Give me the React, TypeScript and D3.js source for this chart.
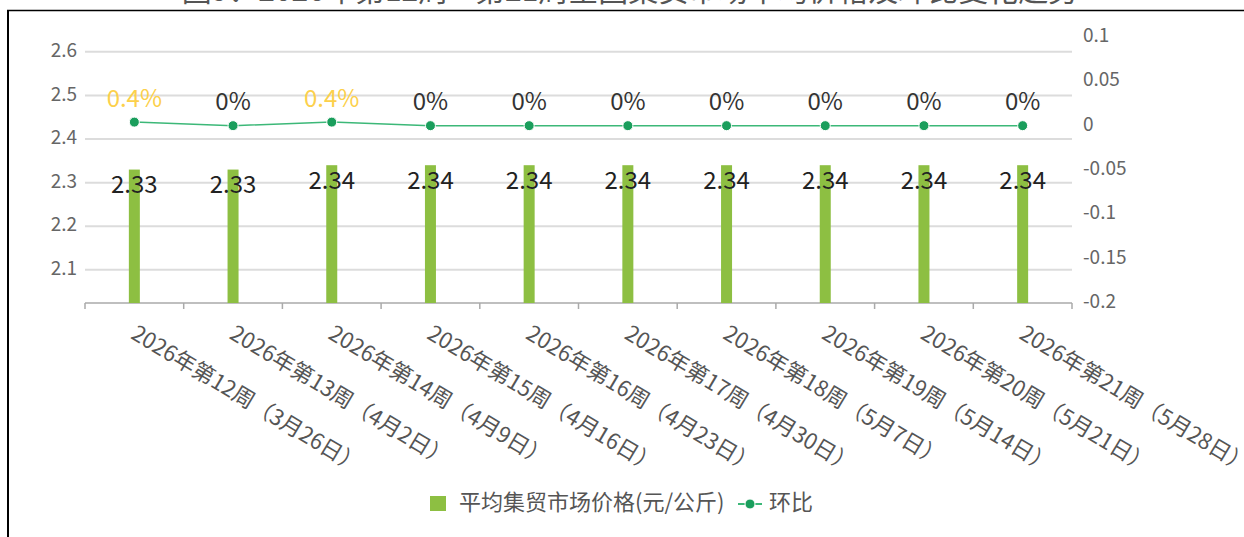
import React from "react";
import * as d3 from "d3";

const categories = [
  "2026年第12周（3月26日）",
  "2026年第13周（4月2日）",
  "2026年第14周（4月9日）",
  "2026年第15周（4月16日）",
  "2026年第16周（4月23日）",
  "2026年第17周（4月30日）",
  "2026年第18周（5月7日）",
  "2026年第19周（5月14日）",
  "2026年第20周（5月21日）",
  "2026年第21周（5月28日）",
];
const prices = [2.33, 2.33, 2.34, 2.34, 2.34, 2.34, 2.34, 2.34, 2.34, 2.34];
const changes = [0.004, 0, 0.004, 0, 0, 0, 0, 0, 0, 0];
const leftTicks = [2.1, 2.2, 2.3, 2.4, 2.5, 2.6];
const rightTicks = [0.1, 0.05, 0, -0.05, -0.1, -0.15, -0.2];
const seriesNames = ["平均集贸市场价格(元/公斤)", "环比"];
const titleText = "图9：2026年第12周—第21周全国集贸市场平均价格及环比变化趋势";

const FONT = "'Noto Sans CJK SC', 'Noto Sans', sans-serif";
const BAR = "#8dbf42";
const LINE = "#3cb878";
const DOT = "#1a9e5c";
const GOLD = "#fcd04b";

export default function App() {
  const W = 1244;
  const H = 537;
  const left = 85;
  const right = 1072;
  const top = 37;
  const bottom = 303;

  const x = d3.scaleBand<string>().domain(categories).range([left, right]);
  const yL = d3.scaleLinear().domain([2.024, 2.634]).range([bottom, top]);
  const yR = d3.scaleLinear().domain([-0.2, 0.1]).range([bottom, top]);
  const cx = (c: string) => (x(c) as number) + x.bandwidth() / 2;

  const line = d3
    .line<number>()
    .x((_, i) => cx(categories[i]))
    .y((d) => yR(d));

  const boundaries = categories.map((c) => x(c) as number).concat([right]);
  const fmtPct = (v: number) => `${+(v * 100).toFixed(1)}%`;

  return (
    <svg
      width={W}
      height={H}
      style={{ position: "absolute", left: 0, top: 0, background: "#fff" }}
      fontFamily={FONT}
    >
      {/* title, cut off at the top edge as in the source */}
      <text x={630} y={1} textAnchor="middle" fontSize={30} fill="#555">
        {titleText}
      </text>
      {/* frame */}
      <line x1={7} x2={W} y1={10.5} y2={10.5} stroke="#000" strokeWidth={1.5} />
      <line x1={8} x2={8} y1={10} y2={H} stroke="#000" strokeWidth={2} />

      {/* grid */}
      {leftTicks.map((t) => (
        <line
          key={t}
          x1={left}
          x2={right}
          y1={yL(t)}
          y2={yL(t)}
          stroke="#dcdcdc"
          strokeWidth={2}
        />
      ))}
      {leftTicks.map((t) => (
        <text
          key={t}
          x={77}
          y={yL(t)}
          textAnchor="end"
          dominantBaseline="middle"
          fontSize={19}
          fill="#666"
        >
          {t.toFixed(1)}
        </text>
      ))}
      {rightTicks.map((t) => (
        <text
          key={t}
          x={1083}
          y={yR(t)}
          dominantBaseline="middle"
          fontSize={19}
          fill="#666"
        >
          {String(t)}
        </text>
      ))}
      {/* x axis */}
      <line x1={left} x2={right} y1={bottom} y2={bottom} stroke="#aaa" strokeWidth={1.5} />
      {boundaries.map((b, i) => (
        <line key={i} x1={b} x2={b} y1={bottom} y2={bottom + 6} stroke="#aaa" strokeWidth={1.5} />
      ))}
      {categories.map((c) => (
        <text
          key={c}
          transform={`translate(${cx(c) + 6},${bottom + 17}) rotate(31)`}
          dominantBaseline="hanging"
          fontSize={22}
          fill="#555"
        >
          {c}
        </text>
      ))}

      {/* bars */}
      {prices.map((v, i) => (
        <rect
          key={i}
          x={cx(categories[i]) - 5.5}
          width={11}
          y={yL(v)}
          height={bottom - yL(v)}
          fill={BAR}
        />
      ))}
      {prices.map((v, i) => (
        <text
          key={i}
          x={cx(categories[i])}
          y={yL(v) + 17}
          textAnchor="middle"
          dominantBaseline="middle"
          fontSize={24}
          fill="#222"
        >
          {v.toFixed(2)}
        </text>
      ))}

      {/* line */}
      <path d={line(changes) || ""} fill="none" stroke={LINE} strokeWidth={1.5} />
      {changes.map((v, i) => (
        <circle key={i} cx={cx(categories[i])} cy={yR(v)} r={5} fill={DOT} stroke="#fff" strokeWidth={1} />
      ))}
      {changes.map((v, i) => (
        <text
          key={i}
          x={cx(categories[i])}
          y={yR(v) - 22}
          textAnchor="middle"
          dominantBaseline="middle"
          fontSize={24}
          fill={v > 0 ? GOLD : "#333"}
        >
          {fmtPct(v)}
        </text>
      ))}

      {/* legend */}
      <rect x={430} y={496} width={16} height={15} fill={BAR} />
      <text x={459} y={504} dominantBaseline="middle" fontSize={22} fill="#555">
        {seriesNames[0]}
      </text>
      <line x1={738} x2={762} y1={504} y2={504} stroke={LINE} strokeWidth={2} />
      <circle cx={750} cy={504} r={5} fill={DOT} stroke="#fff" strokeWidth={1} />
      <text x={769} y={504} dominantBaseline="middle" fontSize={22} fill="#555">
        {seriesNames[1]}
      </text>
    </svg>
  );
}
